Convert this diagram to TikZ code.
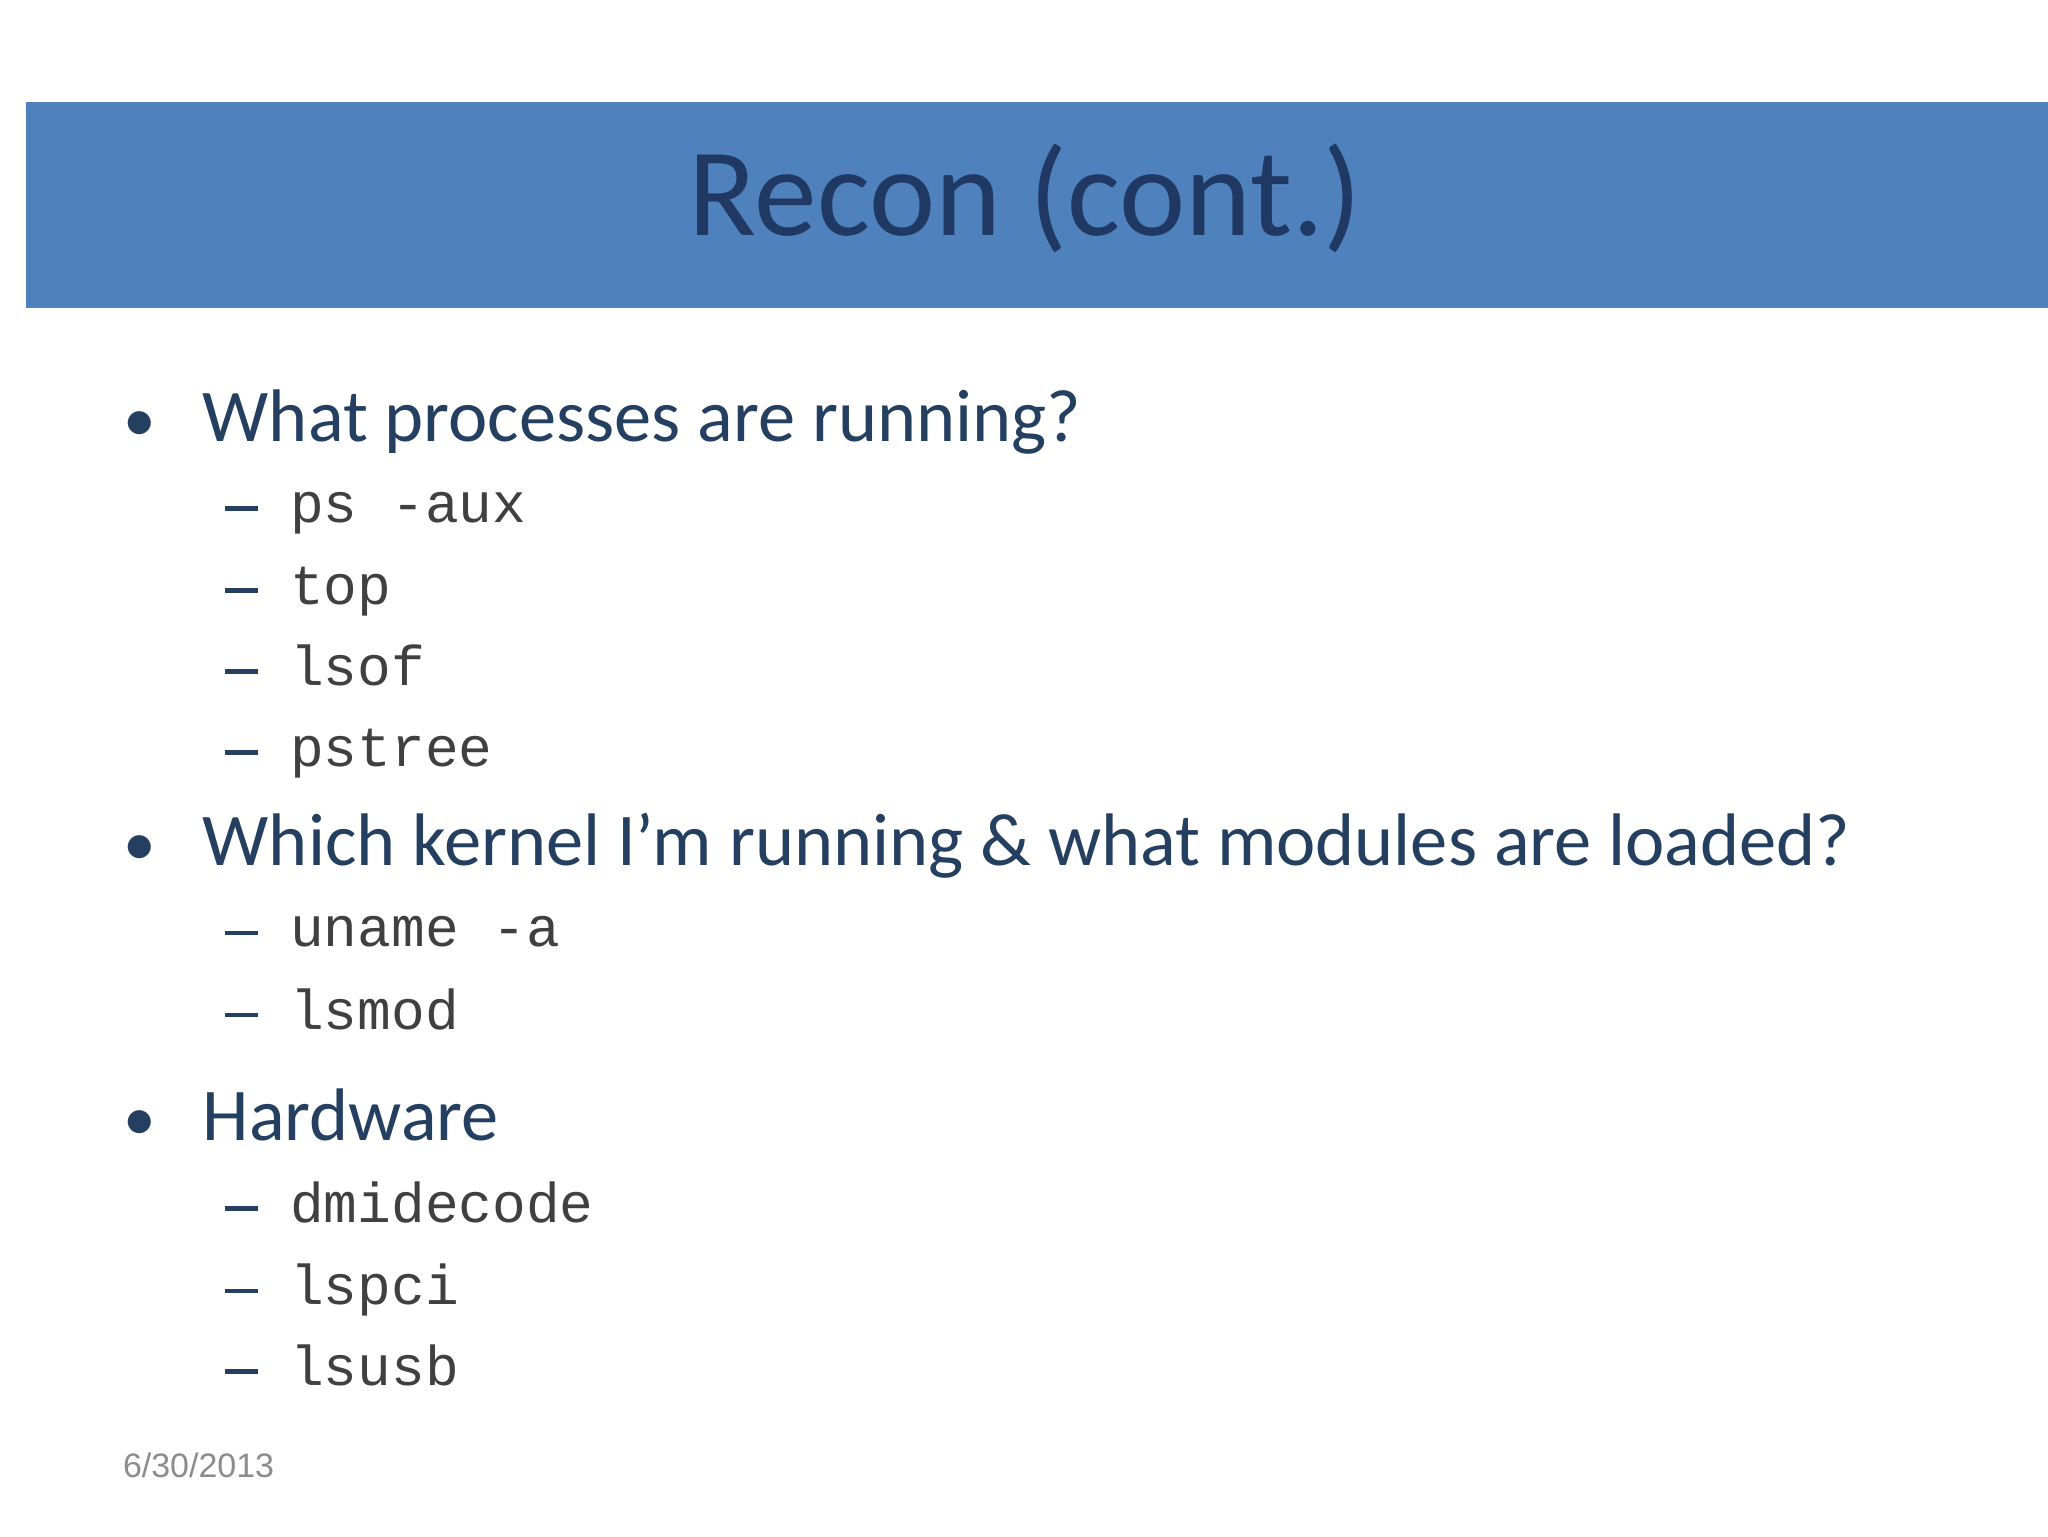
\documentclass[tikz,border=0pt]{standalone}
\usepackage{fontspec}
\setmainfont{Carlito}
\newfontfamily\monof{Liberation Mono}
\newfontfamily\datef{Liberation Sans}
\definecolor{barblue}{HTML}{4F81BD}
\definecolor{navy}{HTML}{1F3864}
\definecolor{txt}{HTML}{243F60}
\definecolor{mono}{HTML}{404040}
\tikzset{
 lvl1/.style={anchor=base west,inner sep=0,text=txt,font=\fontsize{57}{64}\selectfont},
 lvl2/.style={anchor=base west,inner sep=0,text=mono,font=\monof\fontsize{43}{50}\selectfont},
 dashm/.style={anchor=base west,inner sep=0,text=txt},
 bul/.style={anchor=base west,inner sep=0,text=txt,font=\fontsize{50}{60}\selectfont}
}
\begin{document}
\begin{tikzpicture}[x=1pt,y=-1pt]
\useasboundingbox (0,0) rectangle (1568,1176);
\fill[white] (0,0) rectangle (1568,1176);
\fill[barblue] (20,78) rectangle (1568,236);
\node[anchor=base,inner sep=0,text=navy,font=\fontsize{96}{110}\selectfont] (title) at (785,180) {Recon (cont.)};
\foreach \y/\t [count=\i] in {338/What processes are running?,663/Which kernel I’m running \& what modules are loaded?,873/Hardware}{
 \node[bul] (b\i) at (94,\y) {•};
 \node[lvl1] (t\i) at (155,\y) {\t};
}
\foreach \y/\t [count=\i] in {400/ps -aux,463/top,525/lsof,587/pstree,725/uname -a,788/lsmod,936/dmidecode,999/lspci,1061/lsusb}{
 \node[dashm] (d\i) at (172,\y) {\rule[9pt]{25pt}{3.5pt}};
 \node[lvl2] (s\i) at (222,\y) {\t};
}
\node[anchor=base west,inner sep=0,text=gray!90,font=\datef\fontsize{26}{30}\selectfont] (date) at (94,1131) {6/30/2013};
\end{tikzpicture}
\end{document}
